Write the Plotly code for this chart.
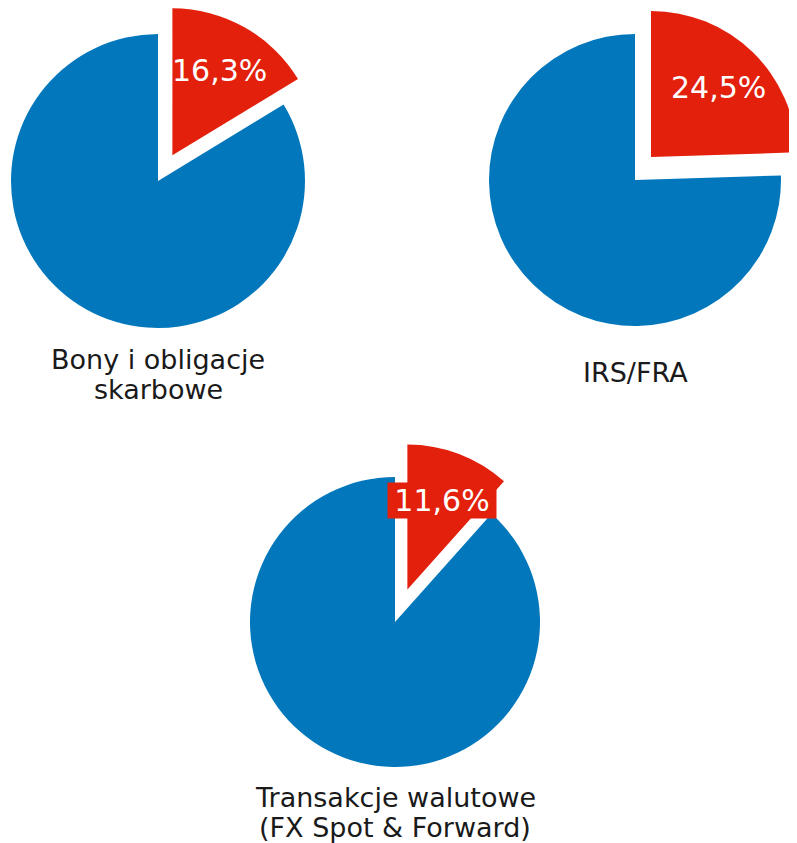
import math
import plotly.graph_objects as go

# ---- data ----
categories = [["Bony i obligacje", "skarbowe"], ["IRS/FRA"], ["Transakcje walutowe", "(FX Spot & Forward)"]]
share_pct = [16.3, 24.5, 11.6]          # highlighted (red) share
rest_pct = [100 - v for v in share_pct]  # remaining (blue) share
pct_labels = ["16,3%", "24,5%", "11,6%"]

# ---- layout / style ----
PW, PH = 797, 843          # page (window) size
OX, OY = 8, 8              # default body margin of the html page
FW, FH = PW - OX, PH - OY  # figure size
BLUE = "#0377BB"
RED = "#E2200C"
CLEAR = "rgba(0,0,0,0)"
FONT = "DejaVu Sans"

centers = [(158, 181), (635, 180), (395, 622)]   # pie centre, page px
radii = [147, 146, 145]
pulls = [0.20, 0.22, 0.24]
label_lines_y = [[359, 389], [372], [797, 827]]  # page px (cap centre)
pct_box_w = [None, None, 108]
pct_box_bg = [None, None, RED]

def px2paper(x, y):
    return (x - OX) / FW, 1 - (y - OY) / FH

def dom(cx, cy, r):
    x0, y1 = px2paper(cx - r, cy - r)
    x1, y0 = px2paper(cx + r, cy + r)
    return dict(x=[max(0, x0), min(1, x1)], y=[max(0, y0), min(1, y1)])

fig = go.Figure()
annotations = []
for i in range(3):
    cx, cy = centers[i]
    r = radii[i]
    vals = [share_pct[i], rest_pct[i]]
    frac = share_pct[i] / (share_pct[i] + rest_pct[i])
    mid = math.radians(360 * frac / 2)
    off = pulls[i] * r
    rcx = min(cx + off * math.sin(mid), PW - r)
    rcy = cy - off * math.cos(mid)
    common = dict(values=vals, sort=False, direction="clockwise", rotation=0,
                  textinfo="none", hoverinfo="skip", showlegend=False)
    fig.add_trace(go.Pie(**common, domain=dom(cx, cy, r),
                         marker=dict(colors=[CLEAR, BLUE], line=dict(width=0))))
    fig.add_trace(go.Pie(**common, domain=dom(rcx, rcy, r),
                         marker=dict(colors=[RED, CLEAR], line=dict(width=0))))
    # percentage label inside the pulled slice
    lx = rcx + 0.66 * r * math.sin(mid)
    ly = rcy - 0.66 * r * math.cos(mid)
    ax, ay = px2paper(lx, ly)
    ann = dict(x=ax, y=ay, xref="paper", yref="paper", text=pct_labels[i],
               showarrow=False, font=dict(family=FONT, size=30, color="white"),
               borderpad=0, xanchor="center", yanchor="middle")
    if pct_box_bg[i]:
        ann["bgcolor"] = pct_box_bg[i]
        ann["width"] = pct_box_w[i]
        ann["height"] = 35
    annotations.append(ann)
    # category label lines
    for line, yy in zip(categories[i], label_lines_y[i]):
        ax, ay = px2paper(cx, yy)
        annotations.append(dict(x=ax, y=ay, xref="paper", yref="paper", text=line,
                                showarrow=False,
                                font=dict(family=FONT, size=27, color="#1a1a1a"),
                                xanchor="center", yanchor="middle"))

fig.update_layout(width=FW, height=FH, margin=dict(l=0, r=0, t=0, b=0),
                  paper_bgcolor="white", plot_bgcolor="white",
                  annotations=annotations)
fig.write_html("out.html")
